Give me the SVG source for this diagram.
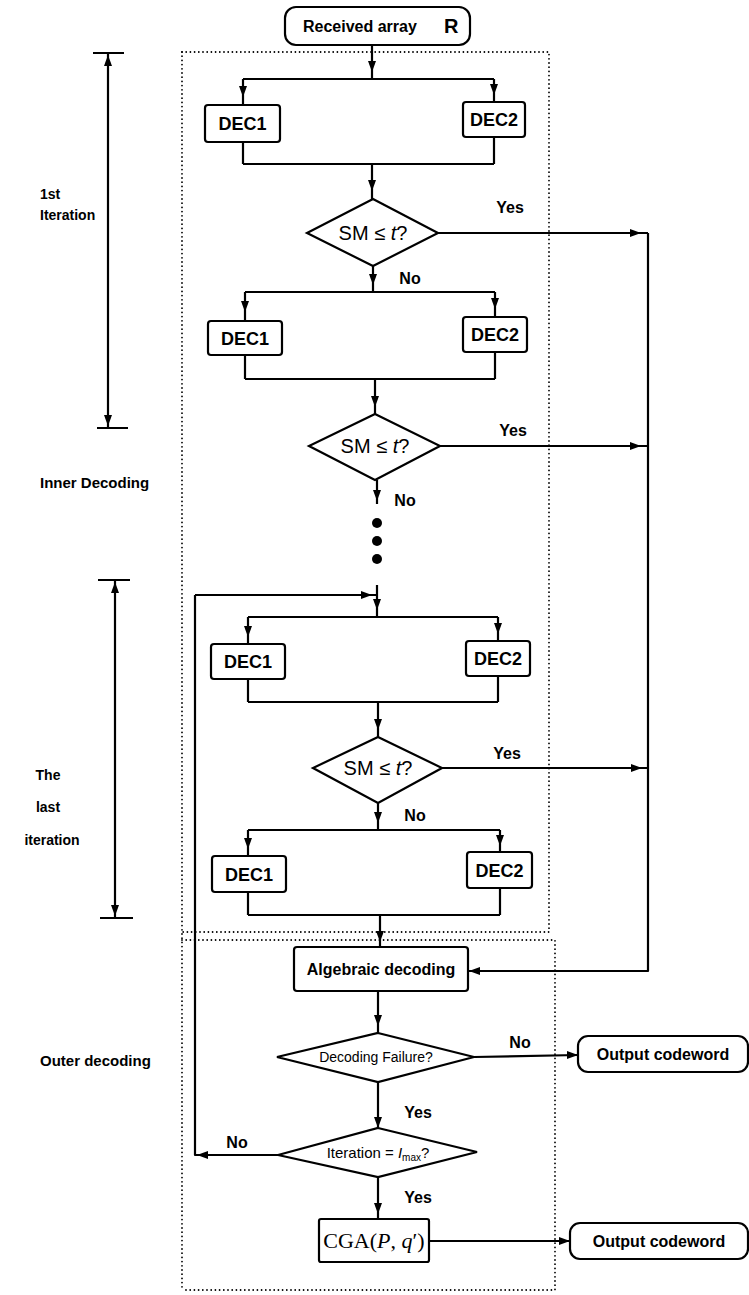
<svg xmlns="http://www.w3.org/2000/svg" xmlns:xlink="http://www.w3.org/1999/xlink" width="749" height="1295" viewBox="0 0 749 1295">
<style>
  .ln{fill:none;stroke:#000;stroke-width:2.2;stroke-linejoin:round}
  .bx{fill:#fff;stroke:#000;stroke-width:2.2}
  .dot{fill:none;stroke:#000;stroke-width:1.8;stroke-dasharray:0 4.2;stroke-linecap:round}
  .t{font-family:"Liberation Sans",Arial,sans-serif;fill:#000}
  .b{font-weight:bold}
  .lab{font-family:"Liberation Sans",Arial,sans-serif;font-weight:bold;font-size:16px;fill:#000}
  .ser{font-family:"Liberation Serif","Times New Roman",serif;fill:#000}
</style>
<defs>
  <path id="ah" d="M0,0 L-4,-11 L4,-11 Z" fill="#000"/>
</defs>
<rect width="749" height="1295" fill="#fff"/>

<g id="regions">
  <path class="dot" d="M182,52 H549 V932 H182"/>
  <path class="dot" d="M182,940 H555 V1290 H182"/>
  <path class="dot" d="M182,52 V1290"/>
</g>

<g id="annotations">
  <path class="ln" d="M93,53 H124 M108,53 V428 M97,428 H128"/>
  <use xlink:href="#ah" transform="translate(108,55) rotate(180)"/>
  <use xlink:href="#ah" transform="translate(108,426)"/>
  <path class="ln" d="M98,580 H130 M115,580 V918 M100,918 H133"/>
  <use xlink:href="#ah" transform="translate(115,582) rotate(180)"/>
  <use xlink:href="#ah" transform="translate(115,916)"/>
  <text class="t b" x="40" y="199" font-size="14">1st</text>
  <text class="t b" x="40" y="220" font-size="14">Iteration</text>
  <text class="t b" x="40" y="488" font-size="15">Inner Decoding</text>
  <text class="t b" x="48" y="780" font-size="14" text-anchor="middle">The</text>
  <text class="t b" x="48" y="812" font-size="14" text-anchor="middle">last</text>
  <text class="t b" x="52" y="845" font-size="14" text-anchor="middle">iteration</text>
  <text class="t b" x="40" y="1066" font-size="15">Outer decoding</text>
</g>

<g id="connectors">
  <path class="ln" d="M372,45 V79 M243,79 H494 M243,79 V105 M494,79 V102 M243,142 V164 M494,137 V164 M243,164 H494 M372,164 V199"/>
  <use xlink:href="#ah" transform="translate(372,72)"/>
  <use xlink:href="#ah" transform="translate(243,97)"/>
  <use xlink:href="#ah" transform="translate(494,95)"/>
  <use xlink:href="#ah" transform="translate(372,191)"/>
  <path class="ln" d="M438,233 H648"/>
  <use xlink:href="#ah" transform="translate(641,233) rotate(-90)"/>
  <path class="ln" d="M373,266 V292 M245,292 H495 M245,292 V321 M495,292 V317 M245,355 V379 M495,352 V379 M245,379 H495 M375,379 V414"/>
  <use xlink:href="#ah" transform="translate(373,285)"/>
  <use xlink:href="#ah" transform="translate(245,312)"/>
  <use xlink:href="#ah" transform="translate(495,309)"/>
  <use xlink:href="#ah" transform="translate(375,407)"/>
  <path class="ln" d="M440,446 H648"/>
  <use xlink:href="#ah" transform="translate(641,446) rotate(-90)"/>
  <path class="ln" d="M377,480 V504"/>
  <use xlink:href="#ah" transform="translate(377,501)"/>
  <circle cx="377" cy="523" r="5" fill="#000"/>
  <circle cx="377" cy="541" r="5" fill="#000"/>
  <circle cx="377" cy="559" r="5" fill="#000"/>
  <path class="ln" d="M377,585 V617 M195,595 H377 M248,617 H498 M248,617 V644 M498,617 V641 M248,679 V702 M498,676 V702 M248,702 H498 M378,702 V737"/>
  <use xlink:href="#ah" transform="translate(372,595) rotate(-90)"/>
  <use xlink:href="#ah" transform="translate(377,610)"/>
  <use xlink:href="#ah" transform="translate(248,637)"/>
  <use xlink:href="#ah" transform="translate(498,634)"/>
  <use xlink:href="#ah" transform="translate(378,730)"/>
  <path class="ln" d="M442,768 H648"/>
  <use xlink:href="#ah" transform="translate(642,768) rotate(-90)"/>
  <path class="ln" d="M378,803 V830 M248,830 H500 M248,830 V856 M500,830 V852 M248,892 V915 M500,888 V915 M248,915 H500 M380,915 V947"/>
  <use xlink:href="#ah" transform="translate(378,823)"/>
  <use xlink:href="#ah" transform="translate(248,849)"/>
  <use xlink:href="#ah" transform="translate(500,846)"/>
  <use xlink:href="#ah" transform="translate(380,942)"/>
  <path class="ln" d="M648,233 V971 H469"/>
  <use xlink:href="#ah" transform="translate(469,971) rotate(90)"/>
  <path class="ln" d="M378,991 V1033"/>
  <use xlink:href="#ah" transform="translate(378,1026)"/>
  <path class="ln" d="M474,1057 L578,1055"/>
  <use xlink:href="#ah" transform="translate(578,1055) rotate(-90)"/>
  <path class="ln" d="M378,1082 V1128"/>
  <use xlink:href="#ah" transform="translate(378,1128)"/>
  <path class="ln" d="M278,1155 H195 V595"/>
  <use xlink:href="#ah" transform="translate(197,1155) rotate(90)"/>
  <path class="ln" d="M378,1177 V1219"/>
  <use xlink:href="#ah" transform="translate(378,1214)"/>
  <path class="ln" d="M429,1241 H570"/>
  <use xlink:href="#ah" transform="translate(570,1241) rotate(-90)"/>
</g>

<g id="edge-labels">
  <text class="lab" x="510" y="213" text-anchor="middle">Yes</text>
  <text class="lab" x="410" y="284" text-anchor="middle">No</text>
  <text class="lab" x="513" y="436" text-anchor="middle">Yes</text>
  <text class="lab" x="405" y="506" text-anchor="middle">No</text>
  <text class="lab" x="507" y="759" text-anchor="middle">Yes</text>
  <text class="lab" x="415" y="821" text-anchor="middle">No</text>
  <text class="lab" x="520" y="1048" text-anchor="middle">No</text>
  <text class="lab" x="418" y="1118" text-anchor="middle">Yes</text>
  <text class="lab" x="237" y="1148" text-anchor="middle">No</text>
  <text class="lab" x="418" y="1203" text-anchor="middle">Yes</text>
</g>

<g id="start">
  <rect class="bx" x="285" y="7" width="185" height="38" rx="11"/>
  <text class="t b" x="303" y="32" font-size="16">Received array</text>
  <text class="t b" x="444" y="33" font-size="20">R</text>
</g>

<g id="dec1-a"><rect class="bx" x="205" y="105" width="75" height="37" rx="3"/><text class="t b" x="242.5" y="130" font-size="18" text-anchor="middle">DEC1</text></g>
<g id="dec2-a"><rect class="bx" x="463" y="102" width="62" height="35" rx="3"/><text class="t b" x="494" y="126" font-size="18" text-anchor="middle">DEC2</text></g>
<g id="check-a"><path class="bx" d="M373,199 L438,233 L373,266 L307,233 Z"/><text class="t" x="373" y="240" font-size="20" text-anchor="middle">SM ≤ <tspan font-style="italic">t</tspan>?</text></g>

<g id="dec1-b"><rect class="bx" x="208" y="321" width="74" height="34" rx="3"/><text class="t b" x="245" y="344.5" font-size="18" text-anchor="middle">DEC1</text></g>
<g id="dec2-b"><rect class="bx" x="463" y="317" width="64" height="35" rx="3"/><text class="t b" x="495" y="341" font-size="18" text-anchor="middle">DEC2</text></g>
<g id="check-b"><path class="bx" d="M375,414 L440,446 L375,480 L309,446 Z"/><text class="t" x="375" y="453" font-size="20" text-anchor="middle">SM ≤ <tspan font-style="italic">t</tspan>?</text></g>

<g id="dec1-c"><rect class="bx" x="211" y="644" width="74" height="35" rx="3"/><text class="t b" x="248" y="668" font-size="18" text-anchor="middle">DEC1</text></g>
<g id="dec2-c"><rect class="bx" x="466" y="641" width="64" height="35" rx="3"/><text class="t b" x="498" y="665" font-size="18" text-anchor="middle">DEC2</text></g>
<g id="check-c"><path class="bx" d="M378,737 L442,768 L378,803 L313,768 Z"/><text class="t" x="378" y="775" font-size="20" text-anchor="middle">SM ≤ <tspan font-style="italic">t</tspan>?</text></g>

<g id="dec1-d"><rect class="bx" x="212" y="856" width="74" height="36" rx="3"/><text class="t b" x="249" y="880.5" font-size="18" text-anchor="middle">DEC1</text></g>
<g id="dec2-d"><rect class="bx" x="467" y="852" width="65" height="36" rx="3"/><text class="t b" x="499.5" y="876.5" font-size="18" text-anchor="middle">DEC2</text></g>

<g id="algebraic"><rect class="bx" x="294" y="947" width="174" height="44" rx="3"/><text class="t b" x="381" y="975" font-size="16" text-anchor="middle">Algebraic decoding</text></g>

<g id="failure"><path class="bx" d="M378,1033 L474,1057 L378,1082 L277,1057 Z"/><text class="t" x="376" y="1062" font-size="14" text-anchor="middle">Decoding Failure?</text></g>

<g id="out1"><rect class="bx" x="578" y="1036" width="170" height="36" rx="10"/><text class="t b" x="663" y="1060" font-size="16" text-anchor="middle">Output codeword</text></g>

<g id="iteration"><path class="bx" d="M378,1128 L477,1152 L378,1177 L278,1155 Z"/><text class="t" x="378" y="1158" font-size="15" text-anchor="middle">Iteration = <tspan font-style="italic">I</tspan><tspan font-size="10" dy="3">max</tspan><tspan dy="-3">?</tspan></text></g>

<g id="cga"><rect class="bx" x="319" y="1219" width="110" height="43" rx="2"/><text class="ser" x="374" y="1248" font-size="22" text-anchor="middle">CGA(<tspan font-style="italic">P</tspan>, <tspan font-style="italic">q</tspan>′)</text></g>

<g id="out2"><rect class="bx" x="570" y="1223" width="178" height="36" rx="10"/><text class="t b" x="659" y="1247" font-size="16" text-anchor="middle">Output codeword</text></g>
</svg>
